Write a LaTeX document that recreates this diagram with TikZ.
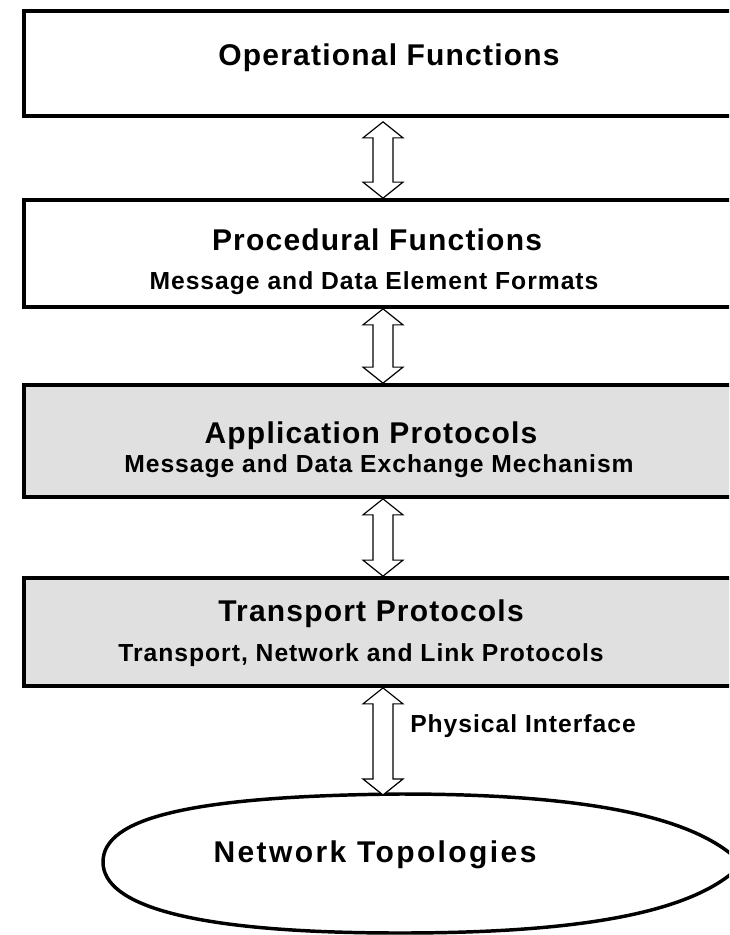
\documentclass[tikz,border=0pt]{standalone}
\usepackage{fontspec}
\setmainfont{Liberation Sans}
\newfontfamily\lsfont[LetterSpace=4]{Liberation Sans}
\newfontfamily\lswide[LetterSpace=8]{Liberation Sans}
\usetikzlibrary{calc}
\definecolor{boxgray}{RGB}{224,224,224}
\newcommand\fatlink[2]{%
 \draw[fat] let \p1=(#1), \p2=(#2) in
  (\x1,\y1) -- (\x1+15pt,\y1-12pt) -- (\x1+7.5pt,\y1-12pt) -- (\x1+7.5pt,\y2+12pt)
  -- (\x1+15pt,\y2+12pt) -- (\x1,\y2) -- (\x1-15pt,\y2+12pt) -- (\x1-7.5pt,\y2+12pt)
  -- (\x1-7.5pt,\y1-12pt) -- (\x1-15pt,\y1-12pt) -- cycle;}
\begin{document}
\begin{tikzpicture}[x=0.75pt,y=-0.75pt,
  layer/.style={draw=black, line width=2.8pt, rectangle, minimum width=538.5pt, inner sep=0pt},
  graylayer/.style={layer, fill=boxgray},
  ttl/.style={font=\lsfont\bfseries\fontsize{22.5}{26}\selectfont, inner sep=0pt},
  sub/.style={font=\lsfont\bfseries\fontsize{18.5}{22}\selectfont, inner sep=0pt},
  fat/.style={draw=black, fill=white, line width=0.9pt, line join=miter},
  topo/.style={draw=black, line width=2.6pt}
]
\useasboundingbox (0,0) rectangle (729,935);
\clip (0,0) rectangle (729,935);

\node[layer, minimum height=78.75pt] (b1) at (383,63.5) {};
\node[layer, minimum height=80.25pt] (b2) at (383,253.5) {};
\node[graylayer, minimum height=84pt] (b3) at (383,441) {};
\node[graylayer, minimum height=81pt] (b4) at (383,632) {};

\node[ttl] (t1) at (389,58) {Operational Functions};
\node[ttl] (t2) at (377,240) {Procedural Functions};
\node[sub] (s2) at (374,283) {Message and Data Element Formats};
\node[ttl] (t3) at (371,436) {Application Protocols};
\node[sub] (s3) at (379,466) {Message and Data Exchange Mechanism};
\node[ttl] (t4) at (371,614) {Transport Protocols};
\node[sub] (s4) at (361,655) {Transport, Network and Link Protocols};

\draw[topo] (103,862) .. controls (103,818) and (190,796) .. (400,794)
  .. controls (600,794) and (700,820) .. (742,864)
  .. controls (700,908) and (600,933) .. (400,933)
  .. controls (190,933) and (103,905) .. (103,862) -- cycle;
\coordinate (et) at (383,795);
\node[ttl, font=\lswide\bfseries\fontsize{22.5}{26}\selectfont] (nt) at (375,855) {Network Topologies};

\coordinate (a1) at ($(b1.south)+(0,-3pt)$);
\fatlink{a1}{b2.north}
\fatlink{b2.south}{b3.north}
\fatlink{b3.south}{b4.north}
\fatlink{b4.south}{et}

\node[sub, anchor=west] (pi) at (410,726) {Physical Interface};
\end{tikzpicture}
\end{document}
